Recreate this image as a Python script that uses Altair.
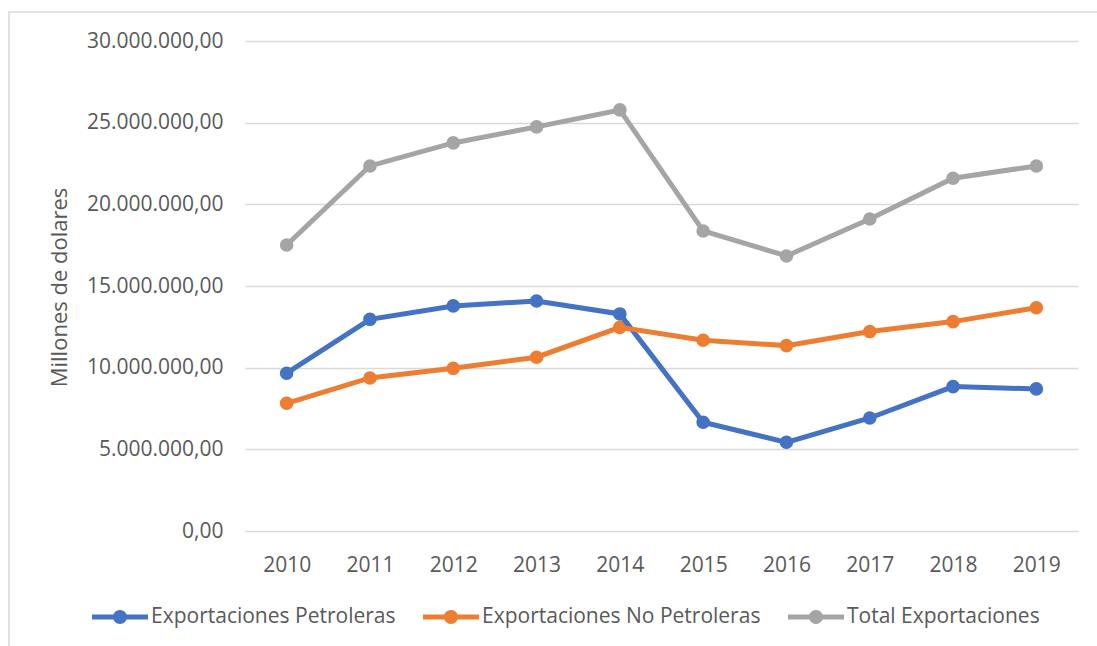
import altair as alt
import pandas as pd

# Annual exports, in dollars
years = ["2010", "2011", "2012", "2013", "2014", "2015", "2016", "2017", "2018", "2019"]
petroleras = [9660000, 12960000, 13780000, 14080000, 13290000, 6660000, 5430000, 6920000, 8840000, 8700000]
no_petroleras = [7820000, 9370000, 9960000, 10640000, 12470000, 11680000, 11350000, 12210000, 12820000, 13670000]
total = [17510000, 22350000, 23760000, 24740000, 25780000, 18370000, 16840000, 19100000, 21600000, 22350000]

series_names = ["Exportaciones Petroleras", "Exportaciones No Petroleras", "Total Exportaciones"]
series_colors = ["#4472C4", "#ED7D31", "#A5A5A5"]
y_ticks = [0, 5000000, 10000000, 15000000, 20000000, 25000000, 30000000]

rows = []
for name, values in zip(series_names, [petroleras, no_petroleras, total]):
    for yr, v in zip(years, values):
        rows.append({"Año": yr, "Serie": name, "Valor": v})
df = pd.DataFrame(rows)

FONT = "Open Sans"
TEXT = "#595959"
GRID = "#D9D9D9"

# legend glyph: a short thick line with a dot in the middle
legend_glyph = (
    "M-1,-0.09 L1,-0.09 L1,0.09 L-1,0.09 Z "
    "M0.25,0 A0.25,0.25 0 1,1 -0.25,0 A0.25,0.25 0 1,1 0.25,0 Z"
)

# es-style number labels: 30.000.000,00
label_expr = (
    "replace(replace(replace(format(datum.value, ',.2f'), regexp(',', 'g'), '_'),"
    " regexp('\\\\.', 'g'), ','), regexp('_', 'g'), '.')"
)

x_enc = alt.X(
    "Año:O",
    sort=years,
    scale=alt.Scale(padding=0.5),
    axis=alt.Axis(
        title=None, labelAngle=0, domain=False, ticks=False, grid=False,
        labelFont=FONT, labelFontSize=21, labelColor=TEXT, labelPadding=23,
    ),
)
y_enc = alt.Y(
    "Valor:Q",
    scale=alt.Scale(domain=[0, 30000000], nice=False),
    axis=alt.Axis(
        values=y_ticks, labelExpr=label_expr, title="Millones de dolares",
        domain=False, ticks=False, grid=True, gridColor=GRID, gridWidth=1.5,
        labelFont=FONT, labelFontSize=21, labelColor=TEXT, labelPadding=22,
        titleFont=FONT, titleFontSize=22, titleFontWeight="normal", titleColor=TEXT,
        titleAngle=-90, titleX=-186, titleY=246, titleAlign="center", titleBaseline="middle",
    ),
)
color_enc = alt.Color(
    "Serie:N",
    sort=series_names,
    scale=alt.Scale(domain=series_names, range=series_colors),
    legend=alt.Legend(
        title=None, orient="none", direction="horizontal",
        legendX=-153, legendY=548, padding=0,
        symbolType=legend_glyph, symbolSize=3136, symbolStrokeWidth=0,
        labelFont=FONT, labelFontSize=21, labelColor=TEXT, labelLimit=500,
        labelOffset=3, columnPadding=27,
    ),
)

points = alt.Chart(df).mark_point(filled=True, size=185, opacity=1).encode(
    x=x_enc, y=y_enc, color=color_enc
)
lines = alt.Chart(df).mark_line(strokeWidth=5).encode(
    x=x_enc, y=y_enc, color=color_enc
)

# thin outer frame of the chart
frame = alt.Chart(alt.Data(values=[{}])).mark_rect(
    fill="transparent", stroke=GRID, strokeWidth=1.5
).encode(
    x=alt.value(-236), x2=alt.value(870),
    y=alt.value(-29), y2=alt.value(640),
)

chart = (
    alt.layer(frame, points, lines)
    .properties(
        width=833, height=490,
        autosize=alt.AutoSizeParams(type="none"),
        padding={"left": 245, "top": 41, "right": 19, "bottom": 115},
        background="white",
    )
    .configure_view(stroke=None)
)

chart.save("out.html", embed_options={"renderer": "svg", "actions": False})
